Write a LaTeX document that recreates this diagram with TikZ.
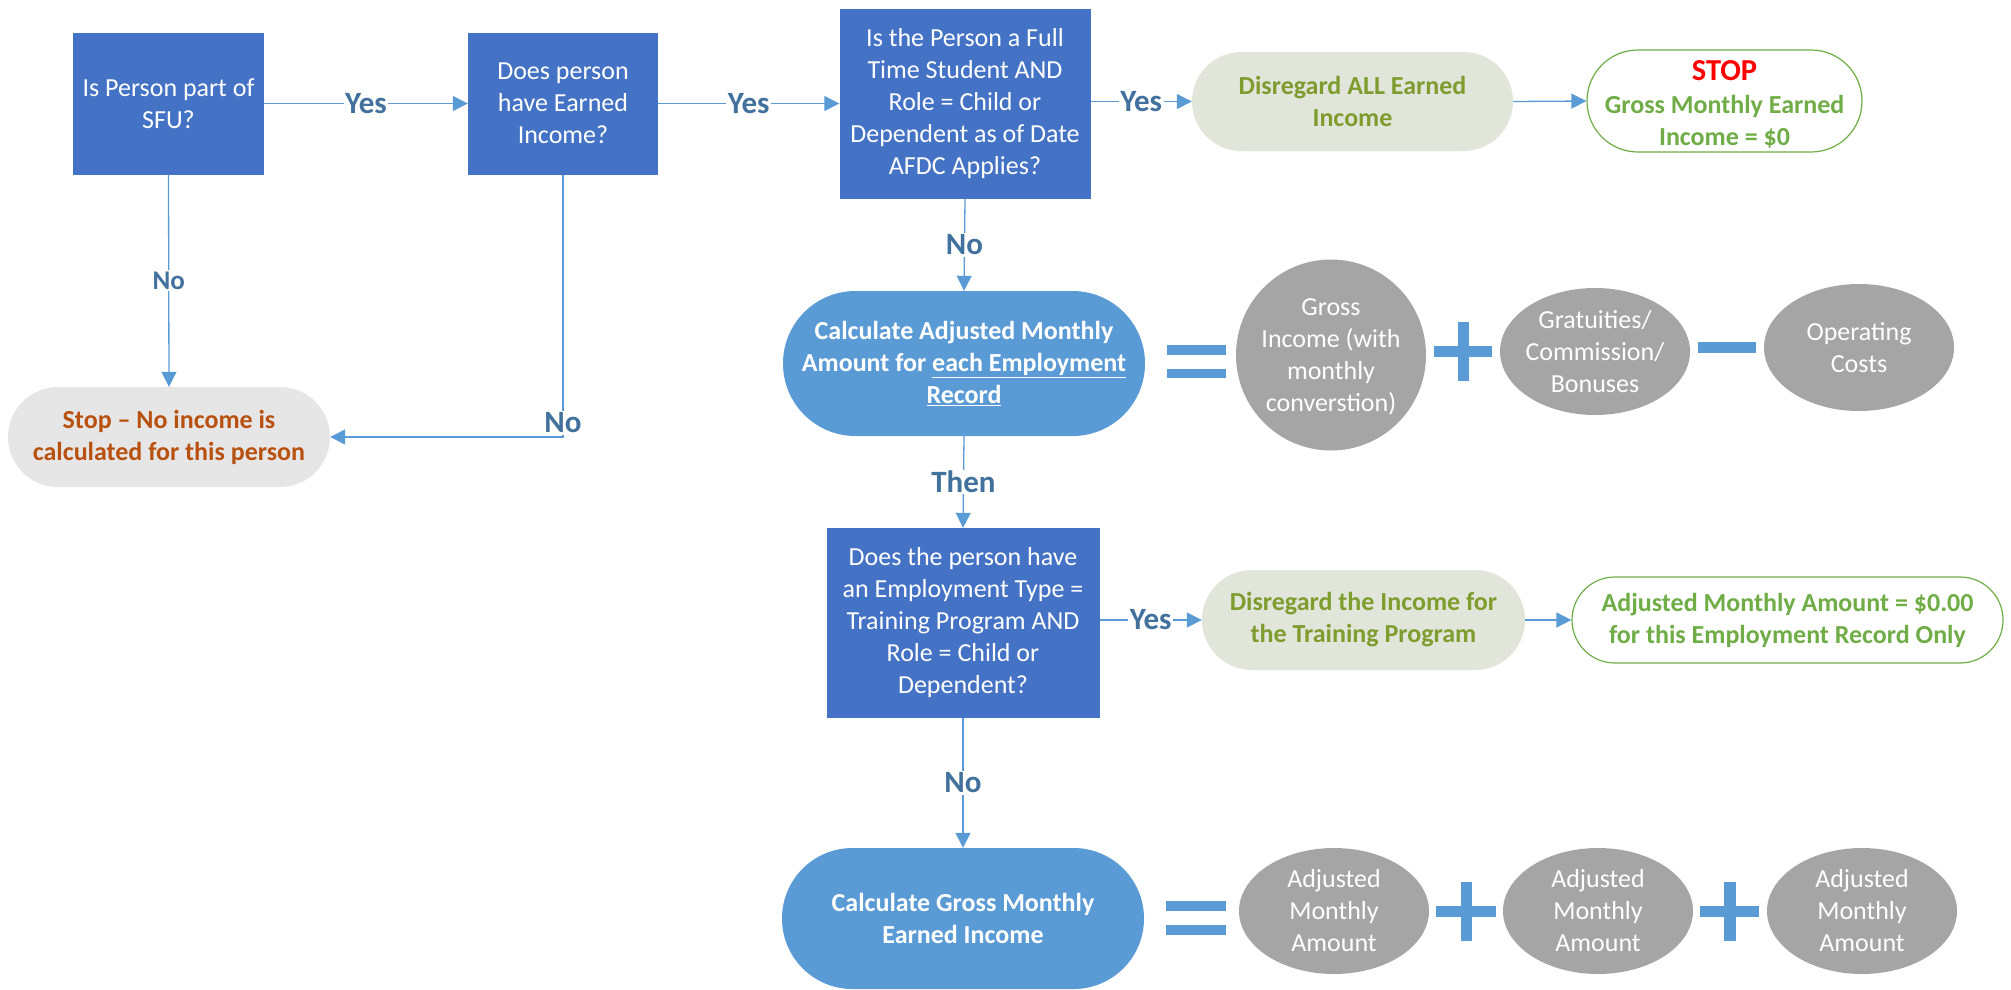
\documentclass[tikz,border=0pt]{standalone}
\usepackage{fontspec}
\setmainfont{Carlito}
\usetikzlibrary{arrows.meta,shapes.geometric}
\definecolor{boxblue}{HTML}{4472C4}
\definecolor{termblue}{HTML}{5B9BD5}
\definecolor{lineblue}{HTML}{5B9BD5}
\definecolor{lblblue}{HTML}{41719C}
\definecolor{stopgray}{HTML}{E7E6E6}
\definecolor{stoporange}{HTML}{B85110}
\definecolor{disfill}{HTML}{E2E5DA}
\definecolor{olivetxt}{HTML}{7F9C2E}
\definecolor{stopgreen}{HTML}{70AD47}
\definecolor{stopred}{HTML}{FF0000}
\definecolor{circgray}{HTML}{A5A5A5}
\begin{document}
\begin{tikzpicture}[x=1pt,y=1pt,
  fs/.style={font=\fontsize{26}{32}\selectfont},
  fsb/.style={font=\fontsize{26}{32}\selectfont\bfseries},
  qbox/.style={fs, fill=boxblue, text=white, align=center, inner sep=0pt},
  termb/.style={fsb, fill=termblue, text=white, align=center, inner sep=0pt},
  disbox/.style={fsb, fill=disfill, text=olivetxt, align=center, inner sep=0pt},
  endbox/.style={fsb, draw=stopgreen, line width=1.2pt, fill=white, text=stopgreen, align=center, inner sep=0pt},
  grayell/.style={ellipse, fill=circgray, inner sep=0pt},
  graytxt/.style={fs, text=white, align=center, inner sep=0pt},
  opbar/.style={fill=termblue},
  conn/.style={draw=lineblue, line width=1.3pt, -{Triangle[length=15pt,width=15pt]}},
  lbl/.style={fill=white, text=lblblue, font=\fontsize{31}{37}\selectfont\bfseries, inner sep=1.5pt},
  lbls/.style={lbl, font=\fontsize{27}{32}\selectfont\bfseries},
]
\useasboundingbox (0,0) rectangle (2011,-989);

% decision boxes
\node[qbox, minimum width=191pt, minimum height=142pt] (b1) at (168.5,-103.5) {Is Person part of\\SFU?};
\node[qbox, minimum width=190pt, minimum height=142pt] (b2) at (563,-103.5) {Does person\\have Earned\\Income?};
\node[qbox, minimum width=251pt, minimum height=190pt] (b3) at (965,-104) {Is the Person a Full\\Time Student AND\\Role = Child or\\Dependent as of Date\\AFDC Applies?};
\node[qbox, minimum width=273pt, minimum height=190pt] (b4) at (963,-623) {Does the person have\\an Employment Type =\\Training Program AND\\Role = Child or\\Dependent?};

% terminators
\node[fsb, fill=stopgray, text=stoporange, align=center, inner sep=0pt, rounded corners=49.9pt, minimum width=322pt, minimum height=100pt] (stop) at (169,-437) {Stop -- No income is\\calculated for this person};
\node[disbox, rounded corners=49.4pt, minimum width=321pt, minimum height=99pt] (disall) at (1352.5,-101.5) {Disregard ALL Earned\\Income};
\node[endbox, rounded corners=50.9pt, minimum width=275pt, minimum height=102pt] (stop2) at (1724.5,-101) {};
\node[fsb, text=stopgreen, align=center, inner sep=0pt] (stop2t) at ([yshift=-3pt]stop2.center) {{\fontsize{30.5}{36}\selectfont\color{stopred}STOP}\\[1pt]Gross Monthly Earned\\Income = \$0};
\node[termb, rounded corners=72.4pt, minimum width=362pt, minimum height=145pt] (calcadj) at (964,-363.5) {Calculate Adjusted Monthly\\Amount for \underline{each Employment}\\\underline{Record}};
\node[disbox, rounded corners=49.9pt, minimum width=323pt, minimum height=100pt] (distr) at (1363.5,-620) {Disregard the Income for\\the Training Program};
\node[endbox, rounded corners=42.9pt, minimum width=431pt, minimum height=86pt] (adj0) at (1787.5,-620) {Adjusted Monthly Amount = \$0.00\\for this Employment Record Only};
\node[termb, rounded corners=70.4pt, minimum width=362pt, minimum height=141pt] (calcgross) at (963,-918.5) {Calculate Gross Monthly\\Earned Income};

% gray ellipses, upper formula
\node[grayell, minimum width=190pt, minimum height=191pt] (gross) at (1331,-355) {};
\node[graytxt] (grosst) at ([yshift=-2pt]gross.center) {Gross\\Income (with\\monthly\\converstion)};
\node[grayell, minimum width=190pt, minimum height=127pt] (grat) at (1595,-351.5) {};
\node[graytxt] (gratt) at (grat) {Gratuities/\\Commission/\\Bonuses};
\node[grayell, minimum width=190pt, minimum height=127pt] (opc) at (1859,-347.5) {};
\node[graytxt] (opct) at (opc) {Operating\\Costs};

% gray ellipses, lower formula
\node[grayell, minimum width=190pt, minimum height=126pt] (am1) at (1334,-911) {};
\node[graytxt] (am1t) at (am1) {Adjusted\\Monthly\\Amount};
\node[grayell, minimum width=190pt, minimum height=126pt] (am2) at (1598,-911) {};
\node[graytxt] (am2t) at (am2) {Adjusted\\Monthly\\Amount};
\node[grayell, minimum width=190pt, minimum height=126pt] (am3) at (1862,-911) {};
\node[graytxt] (am3t) at (am3) {Adjusted\\Monthly\\Amount};

% operator symbols, upper
\fill[opbar] (1167,-345) rectangle (1226,-354.5);
\fill[opbar] (1167,-368.5) rectangle (1226,-378);
\fill[opbar] (1434,-346) rectangle (1492,-357);
\fill[opbar] (1457.5,-322) rectangle (1469,-381);
\fill[opbar] (1698,-342) rectangle (1756,-353);
% operator symbols, lower
\fill[opbar] (1166,-901) rectangle (1226,-911);
\fill[opbar] (1166,-924.5) rectangle (1226,-935);
\fill[opbar] (1436,-906) rectangle (1496,-917);
\fill[opbar] (1460.5,-882) rectangle (1472,-941);
\fill[opbar] (1700,-906) rectangle (1759,-917);
\fill[opbar] (1724,-882) rectangle (1735.5,-941);

% connectors
\draw[conn] (b1.east) -- node[lbl]{Yes} (b2.west);
\draw[conn] (b2.east) -- node[lbl]{Yes} (b2.east -| b3.west);
\draw[conn] (b3.east |- disall.west) -- node[lbl]{Yes} (disall.west);
\draw[conn] (disall.east) -- (stop2.west);
\draw[conn] (b1.south) -- node[lbls]{No} (stop.north);
\draw[conn] (b2.south) |- node[pos=0.5, lbl, yshift=14pt]{No} (stop.east);
\draw[conn] (b3.south) -- node[lbl]{No} (calcadj.north);
\draw[conn] (calcadj.south) -- node[lbl]{Then} (b4.north);
\draw[conn] (b4.east |- distr.west) -- node[lbl]{Yes} (distr.west);
\draw[conn] (distr.east) -- (adj0.west);
\draw[conn] (b4.south) -- node[lbl]{No} (calcgross.north);
\end{tikzpicture}
\end{document}
